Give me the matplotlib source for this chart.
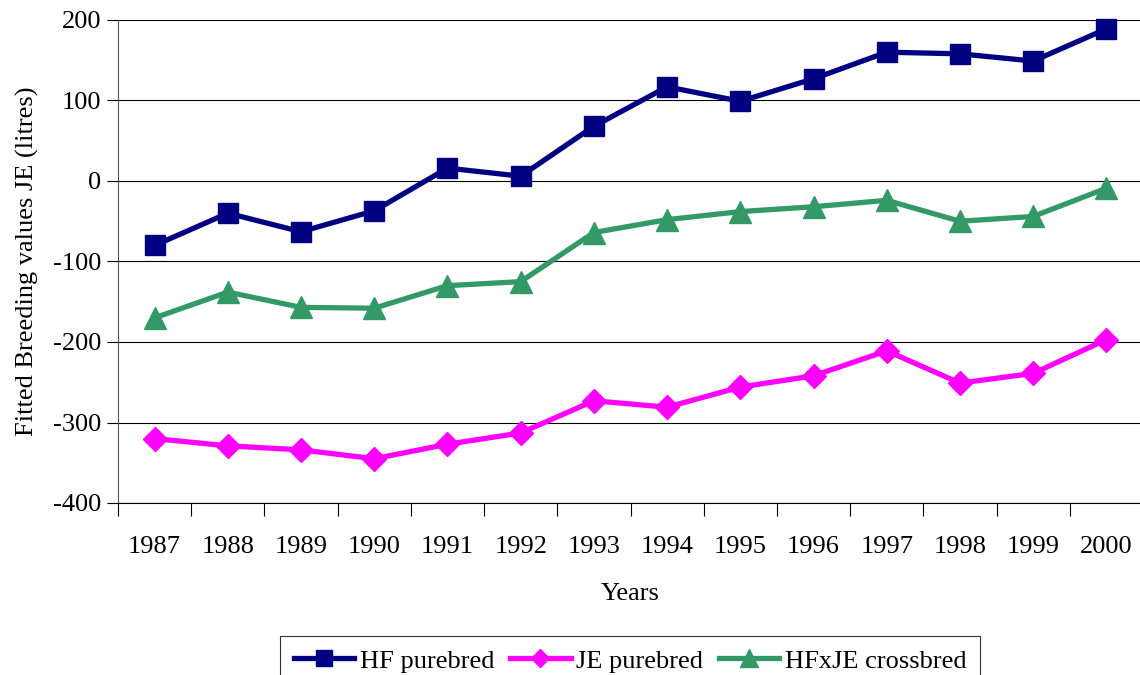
import matplotlib
matplotlib.use("Agg")
import matplotlib.pyplot as plt
from matplotlib.ticker import FixedLocator, NullFormatter

plt.rcParams['font.family'] = ['Liberation Serif', 'DejaVu Serif']

years = ['1987', '1988', '1989', '1990', '1991', '1992', '1993',
         '1994', '1995', '1996', '1997', '1998', '1999', '2000']
hf_purebred = [-80, -40, -63, -37, 16, 6, 68, 117, 99, 127, 160, 158, 149, 189]
je_purebred = [-320, -329, -334, -345, -327, -313, -273, -281, -256, -242, -211, -251, -239, -197]
hfxje_crossbred = [-170, -138, -157, -158, -130, -125, -64, -48, -38, -32, -24, -50, -44, -9]
y_ticks = [-400, -300, -200, -100, 0, 100, 200]

W, H = 1140, 675
fig = plt.figure(figsize=(W / 100, H / 100), dpi=100)
left, right, top, bottom = 118, 1143, 20, 503
ax = fig.add_axes([left / W, 1 - bottom / H, (right - left) / W, (bottom - top) / H])

x = list(range(len(years)))
ax.plot(x, hf_purebred, color='#000080', lw=3.8, marker='s', ms=14.5, label='HF purebred', clip_on=False, zorder=3)
ax.plot(x, je_purebred, color='#FF00FF', lw=3.8, marker='D', ms=12, label='JE purebred', clip_on=False, zorder=3)
ax.plot(x, hfxje_crossbred, color='#339966', lw=3.8, marker='^', ms=16, label='HFxJE crossbred', clip_on=False, zorder=3)

ax.set_xlim(-0.5, len(years) - 0.5)
ax.set_ylim(-400, 200)
ax.set_yticks(y_ticks)
ax.set_yticklabels([str(v) for v in y_ticks])
ax.yaxis.grid(True, color='black', lw=0.8)
ax.set_axisbelow(True)

ax.set_xticks(x)
ax.set_xticklabels(years)
ax.tick_params(axis='x', which='major', length=0, pad=24)
ax.xaxis.set_minor_locator(FixedLocator([i - 0.5 for i in range(len(years) + 1)]))
ax.xaxis.set_minor_formatter(NullFormatter())
ax.tick_params(axis='x', which='minor', length=9, width=0.8, direction='out')
ax.tick_params(axis='y', length=8, width=0.8, direction='out', pad=4)
ax.tick_params(labelsize=19)

for s in ['top', 'right']:
    ax.spines[s].set_visible(False)
ax.spines['left'].set_color('#555555')
ax.spines['bottom'].set_color('black')

ax.set_ylabel('Fitted Breeding values JE (litres)', fontsize=19, labelpad=10)
ax.set_xlabel('Years', fontsize=19, labelpad=18)

leg = fig.legend(loc='upper center', bbox_to_anchor=(630 / W, 1 - 636 / H), ncol=3, fontsize=19,
                 frameon=True, fancybox=False, edgecolor='black', handlelength=2.3,
                 handletextpad=0.2, columnspacing=0.6, borderpad=0.5, borderaxespad=0,
                 markerscale=0.8)
leg.get_frame().set_linewidth(0.8)

fig.savefig('out.png', dpi=100)
